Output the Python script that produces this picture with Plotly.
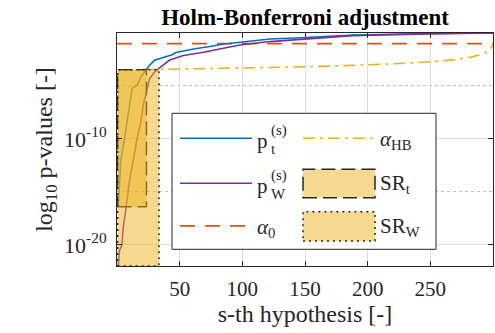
import plotly.graph_objects as go

# ---------------- data ----------------
# sorted p-values (log10) per hypothesis index
s_t = [1, 2, 3, 6, 8, 10, 12, 16, 19, 22, 23, 26, 30, 36, 44, 47, 61, 74, 84, 98, 122, 151, 188, 250, 300]
log_p_t = [-16.4, -14.0, -12.0, -10.0, -8.4, -6.8, -5.25, -4.93, -4.15, -3.68, -3.49, -3.05, -2.58, -2.36,
           -2.05, -1.85, -1.51, -1.28, -1.07, -0.88, -0.57, -0.43, -0.19, -0.05, 0.0]

s_w = [1, 2, 4, 5, 7, 9, 10, 13, 16, 19, 21, 24, 26, 30, 33, 37, 42, 53, 69, 82, 98, 122, 151, 188, 249, 300]
log_p_w = [-22.0, -20.5, -20.0, -18.3, -16.7, -14.8, -13.9, -12.0, -9.96, -8.4, -6.8, -5.25, -4.3, -3.68,
           -3.36, -3.0, -2.55, -2.13, -1.82, -1.5, -1.13, -0.81, -0.57, -0.25, -0.08, 0.0]

# Holm-Bonferroni threshold (log10)
s_hb = [1, 50, 100, 150, 200, 230, 250, 265, 275, 283, 288, 292, 295, 297, 298, 299, 300]
log_alpha_hb = [-3.48, -3.40, -3.30, -3.18, -3.00, -2.85, -2.71, -2.56, -2.42, -2.26, -2.11, -1.95,
                -1.78, -1.60, -1.48, -1.30, -1.00]

alpha_0 = 0.1
s_span = [0, 300]

# significance regions: hypothesis span and log10 p span
sr_t_s = [0.5, 23.5]
sr_t_logp = [-16.4, -3.48]
sr_w_s = [0.5, 33.5]
sr_w_logp = [-22.0, -3.48]

x_ticks = [50, 100, 150, 200, 250]
y_ticks = [1e-20, 1e-10]
y_tick_text = ["10<sup>-20</sup>", "10<sup>-10</sup>"]
y_minor_grid = [1e-15, 1e-5]

# ---------------- styling ----------------
BLUE = "#0072BD"
PURPLE = "#7E2F8E"
RED = "#D95319"
YELLOW = "#EDB120"
FILL = "rgba(237,177,32,0.5)"
INK = "rgb(38,38,38)"
SERIF = "Liberation Serif"


def pw(vals):
    return [10 ** v for v in vals]


def rect(xs, ys):
    x0, x1 = xs
    y0, y1 = pw(ys)
    return [x0, x1, x1, x0, x0], [y0, y0, y1, y1, y0]


fig = go.Figure()

fig.add_trace(go.Scatter(x=s_span, y=[alpha_0, alpha_0], mode="lines",
                         line=dict(color=RED, width=1.6, dash="15px,10px"), showlegend=False))
fig.add_trace(go.Scatter(x=s_hb, y=pw(log_alpha_hb), mode="lines", line_shape="spline",
                         line=dict(color=YELLOW, width=1.6, dash="12px,5px,3px,5px"), showlegend=False))
fig.add_trace(go.Scatter(x=s_t, y=pw(log_p_t), mode="lines",
                         line=dict(color=BLUE, width=1.6), showlegend=False))
fig.add_trace(go.Scatter(x=s_w, y=pw(log_p_w), mode="lines",
                         line=dict(color=PURPLE, width=1.6), showlegend=False))

rx, ry = rect(sr_t_s, sr_t_logp)
fig.add_trace(go.Scatter(x=rx, y=ry, mode="lines", fill="toself", fillcolor=FILL,
                         line=dict(color=INK, width=1.5, dash="14px,6px"), showlegend=False))
rx, ry = rect(sr_w_s, sr_w_logp)
fig.add_trace(go.Scatter(x=rx, y=ry, mode="lines", fill="toself", fillcolor=FILL,
                         line=dict(color=INK, width=1.5, dash="2px,4px"), showlegend=False))

# ---------------- manual legend (box with two columns) ----------------
shapes = [dict(type="rect", xref="paper", yref="paper", x0=0.1463, x1=0.8484, y0=0.0717, y1=0.6554,
               fillcolor="white", line=dict(color=INK, width=1), layer="above")]
rows = [0.548, 0.355, 0.172]
c1 = (0.1676, 0.359)
c2 = (0.4947, 0.6862)
shapes += [
    dict(type="line", xref="paper", yref="paper", x0=c1[0], x1=c1[1], y0=rows[0], y1=rows[0],
         line=dict(color=BLUE, width=1.6), layer="above"),
    dict(type="line", xref="paper", yref="paper", x0=c1[0], x1=c1[1], y0=rows[1], y1=rows[1],
         line=dict(color=PURPLE, width=1.6), layer="above"),
    dict(type="line", xref="paper", yref="paper", x0=c1[0], x1=c1[1], y0=rows[2], y1=rows[2],
         line=dict(color=RED, width=1.6, dash="15px,10px"), layer="above"),
    dict(type="line", xref="paper", yref="paper", x0=c2[0], x1=c2[1], y0=rows[0], y1=rows[0],
         line=dict(color=YELLOW, width=1.6, dash="12px,5px,3px,5px"), layer="above"),
    dict(type="rect", xref="paper", yref="paper", x0=c2[0], x1=c2[1], y0=0.293, y1=0.415,
         fillcolor=FILL, line=dict(color=INK, width=1.5, dash="14px,6px"), layer="above"),
    dict(type="rect", xref="paper", yref="paper", x0=c2[0], x1=c2[1], y0=0.107, y1=0.233,
         fillcolor=FILL, line=dict(color=INK, width=1.5, dash="2px,4px"), layer="above"),
]

LF = 21
ann = []


def txt(x, y, text, size=LF, yshift=0):
    ann.append(dict(xref="paper", yref="paper", x=x, y=y, text=text, showarrow=False,
                    xanchor="left", yanchor="middle", yshift=yshift,
                    font=dict(family=SERIF, size=size, color=INK)))


tx1 = 0.367
tx1s = 0.405
for r, sub in [(rows[0], "t"), (rows[1], "W")]:
    txt(tx1, r, "p", yshift=-3)
    txt(tx1s, r, "(s)", size=15, yshift=8)
    txt(tx1s, r, sub, size=15, yshift=-11)
txt(tx1, rows[2], "<i>α</i><sub>0</sub>", yshift=-2)
tx2 = 0.6941
txt(tx2, rows[0], "<i>α</i><sub>HB</sub>", yshift=-2)
txt(tx2, rows[1], "SR<sub>t</sub>", yshift=-1)
txt(tx2, rows[2], "SR<sub>W</sub>", yshift=-1)

fig.update_layout(
    width=495, height=333,
    margin=dict(l=117, r=2, t=33, b=67),
    paper_bgcolor="white", plot_bgcolor="white",
    font=dict(family=SERIF, color=INK, size=21),
    title=dict(text="<b>Holm-Bonferroni adjustment</b>", x=0.5, xref="paper", xanchor="center",
               y=0.95, yref="container", yanchor="middle",
               font=dict(family=SERIF, size=23, color="black")),
    shapes=shapes, annotations=ann,
)
fig.update_xaxes(
    range=s_span, tickvals=x_ticks, showgrid=True, gridcolor="rgb(222,222,222)", gridwidth=1,
    showline=True, linecolor=INK, linewidth=1, mirror="ticks", ticks="inside", ticklen=5,
    tickcolor=INK, tickfont=dict(family=SERIF, size=21, color=INK), zeroline=False,
    ticklabelstandoff=4,
    title=dict(text="s-th hypothesis [-]", font=dict(family=SERIF, size=24, color=INK), standoff=4),
)
fig.update_yaxes(
    type="log", range=[-22, 0], tickvals=y_ticks, ticktext=y_tick_text, showgrid=True,
    gridcolor="rgb(222,222,222)", gridwidth=1,
    showline=True, linecolor=INK, linewidth=1, mirror="ticks", ticks="inside", ticklen=5,
    tickcolor=INK, tickfont=dict(family=SERIF, size=22, color=INK), zeroline=False,
    ticklabelstandoff=5,
    minor=dict(tickvals=y_minor_grid, showgrid=True, griddash="dot", gridcolor="rgb(190,190,190)",
               ticklen=0),
    title=dict(text="log<sub>10</sub> p-values [-]", font=dict(family=SERIF, size=24, color=INK), standoff=4),
)

fig.write_html("out.html")
